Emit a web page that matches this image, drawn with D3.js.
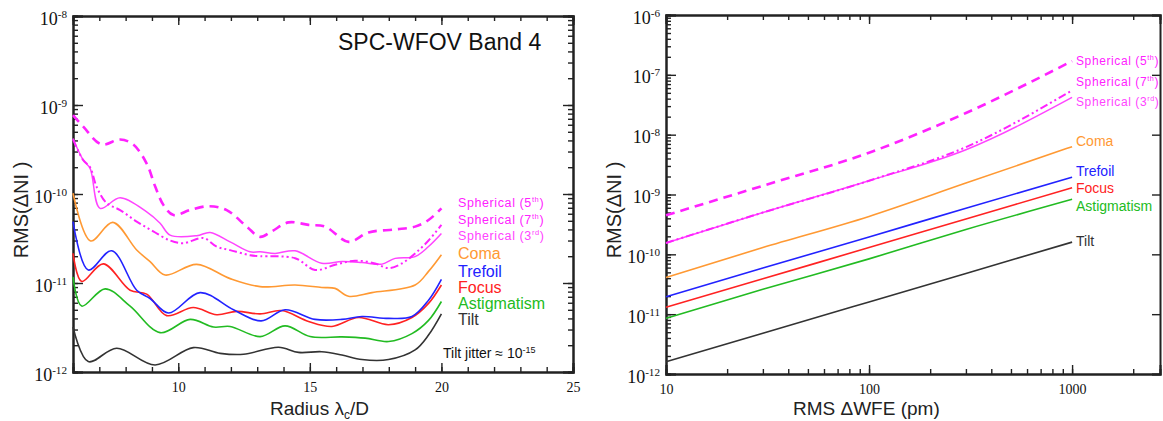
<!DOCTYPE html>
<html>
<head>
<meta charset="utf-8">
<script src="https://cdn.jsdelivr.net/npm/d3@7"></script>
<style>
  body { margin: 0; background: #fff; }
  svg { display: block; font-family: "Liberation Sans", Arial, sans-serif; }
  .axis path, .axis line { stroke: #222; }
  .axis path { stroke-width: 2; }
  .axis line { stroke-width: 1.4; }
</style>
</head>
<body>
<svg id="drawing_region"></svg>
<script>
// ---- left panel: RMS(dNI) vs radius, [radius, value] pairs
var tiltL = [[6.0,3.2e-12],[6.58,1.31e-12],[7.66,1.85e-12],[9.12,1.2e-12],[10.57,1.88e-12],[11.59,1.62e-12],[12.48,1.58e-12],[13.81,1.9e-12],[14.57,1.66e-12],[15.45,1.69e-12],[16.22,1.55e-12],[16.98,1.38e-12],[17.99,1.38e-12],[19.0,1.77e-12],[19.51,2.6e-12],[20.0,4.5e-12]];
var astigL = [[6.0,1.17e-11],[6.33,5.5e-12],[7.22,8.6e-12],[8.17,5.5e-12],[9.31,2.77e-12],[10.45,3.9e-12],[11.34,3.2e-12],[11.97,3.25e-12],[13.11,2.5e-12],[14.06,3.3e-12],[15.01,2.5e-12],[16.22,2.48e-12],[17.1,2.4e-12],[17.99,2.2e-12],[18.88,2.7e-12],[19.51,3.8e-12],[20.0,6.2e-12]];
var focusL = [[6.0,2.16e-11],[6.33,1.04e-11],[7.15,1.64e-11],[8.17,8.3e-12],[8.8,7.5e-12],[9.56,4.3e-12],[10.57,5.3e-12],[11.46,4.4e-12],[12.22,4.8e-12],[13.11,4.5e-12],[13.93,4.9e-12],[14.95,3.7e-12],[15.84,3.25e-12],[16.85,4.1e-12],[17.99,3.4e-12],[18.88,4.1e-12],[19.51,5.9e-12],[20.0,9.5e-12]];
var trefoilL = [[6.0,4.9e-11],[6.58,1.4e-11],[7.47,2.3e-11],[8.42,8.3e-12],[8.93,6.7e-12],[9.63,4.6e-12],[10.83,7.8e-12],[12.1,5.0e-12],[13.15,3.75e-12],[14.06,5.0e-12],[15.2,3.9e-12],[16.22,3.9e-12],[16.98,4.2e-12],[17.99,4.0e-12],[18.88,4.2e-12],[19.51,6.4e-12],[20.0,1.1e-11]];
var comaL = [[6.0,1.02e-10],[6.67,2.97e-11],[7.51,4.8e-11],[8.42,2.35e-11],[8.93,1.74e-11],[9.5,1.23e-11],[10.7,1.62e-11],[11.97,1.12e-11],[13.11,9.1e-12],[14.44,9.5e-12],[15.45,8.9e-12],[15.96,8.7e-12],[16.47,7.1e-12],[17.36,7.8e-12],[19.0,9.5e-12],[19.51,1.35e-11],[20.0,2.08e-11]];
var sph3L = [[6.0,4.2e-10],[6.39,2.4e-10],[6.65,1.94e-10],[7.03,6.9e-11],[7.79,9.1e-11],[8.8,6.3e-11],[9.31,4.7e-11],[9.69,3.45e-11],[10.7,3.4e-11],[11.21,3.7e-11],[11.97,2.9e-11],[12.73,2.24e-11],[13.11,2.24e-11],[13.68,2.15e-11],[14.44,2.3e-11],[15.45,1.67e-11],[16.22,1.74e-11],[16.98,1.7e-11],[17.74,1.63e-11],[18.24,1.89e-11],[19.0,1.98e-11],[19.51,2.57e-11],[20.0,3.6e-11]];
var sph7L = [[6.0,4.1e-10],[6.39,2.4e-10],[6.65,2.0e-10],[6.9,1.2e-10],[7.28,7.9e-11],[7.79,6.6e-11],[8.42,4.9e-11],[9.05,3.8e-11],[9.69,3.0e-11],[10.19,2.8e-11],[10.96,3.2e-11],[11.46,2.56e-11],[11.97,2.34e-11],[12.73,2.05e-11],[13.11,2.0e-11],[14.44,1.9e-11],[15.2,1.4e-11],[15.96,1.6e-11],[16.72,1.78e-11],[17.48,1.66e-11],[17.99,1.47e-11],[18.5,1.66e-11],[19.0,2.15e-11],[19.51,3.0e-11],[20.0,4.5e-11]];
var sph5L = [[6.0,7.7e-10],[6.39,5.7e-10],[7.09,3.6e-10],[7.79,4.1e-10],[8.29,3.6e-10],[8.8,2.2e-10],[9.12,1.22e-10],[9.44,7.5e-11],[9.82,5.8e-11],[10.45,6.6e-11],[11.15,7.3e-11],[11.84,6.6e-11],[12.6,4.3e-11],[13.11,3.3e-11],[13.55,3.8e-11],[14.19,4.8e-11],[14.95,4.5e-11],[15.58,4.3e-11],[16.47,2.9e-11],[17.23,3.7e-11],[18.24,4.0e-11],[19.0,4.3e-11],[19.51,5.1e-11],[20.0,6.9e-11]];

// ---- right panel: RMS(dNI) vs RMS dWFE (pm)
var wfe = [10, 30, 100, 300, 1000];
var tiltR = [1.6e-12, 4.8e-12, 1.6e-11, 4.8e-11, 1.6e-10];
var astigR = [8.5e-12, 2.6e-11, 8.4e-11, 2.6e-10, 8.3e-10];
var focusR = [1.3e-11, 3.9e-11, 1.3e-10, 3.9e-10, 1.3e-9];
var trefoilR = [1.95e-11, 5.9e-11, 1.95e-10, 5.9e-10, 1.95e-9];
var comaR = [4.1e-11, 1.3e-10, 4.3e-10, 1.55e-9, 6.3e-9];
var sph3R = [1.55e-10, 5.0e-10, 1.7e-9, 5.6e-9, 4.2e-8];
var sph7R = [1.55e-10, 5.0e-10, 1.7e-9, 6.2e-9, 5.5e-8];
var sph5R = [4.5e-10, 1.4e-9, 5.0e-9, 2.3e-8, 1.7e-7];

// tick labels
var leftXTicks = [10, 15, 20, 25];
var leftYExp = [-8, -9, -10, -11, -12];
var rightXTicks = [10, 100, 1000];
var rightYExp = [-6, -7, -8, -9, -10, -11, -12];

var series = [
  {name: 'Spherical (5', sup: 'th', end: ')', color: '#ff22ff', dash: '9,6', w: 2.6, left: sph5L, right: sph5R},
  {name: 'Spherical (7', sup: 'th', end: ')', color: '#ff22ff', dash: '8,3,2,3,2,3', w: 2, left: sph7L, right: sph7R},
  {name: 'Spherical (3', sup: 'rd', end: ')', color: '#ff44ff', dash: null, w: 1.5, left: sph3L, right: sph3R},
  {name: 'Coma', color: '#ff9933', dash: null, w: 1.6, left: comaL, right: comaR},
  {name: 'Trefoil', color: '#2222ff', dash: null, w: 1.6, left: trefoilL, right: trefoilR},
  {name: 'Focus', color: '#ff2222', dash: null, w: 1.6, left: focusL, right: focusR},
  {name: 'Astigmatism', color: '#22bb22', dash: null, w: 1.6, left: astigL, right: astigR},
  {name: 'Tilt', color: '#333333', dash: null, w: 1.6, left: tiltL, right: tiltR}
];

var svg = d3.select('#drawing_region').attr('width', 1163).attr('height', 421);

function powLabel(sel, exps, fontSize) {
  sel.selectAll('.tick text').each(function(d) {
    var t = d3.select(this).text('');
    t.append('tspan').text('10');
    t.append('tspan').attr('dy', -7).attr('font-size', fontSize * 0.62).text(Math.round(Math.log10(d)));
  });
}

function drawLabel(g, s, x, y, bigSize, smallSize) {
  var size = s.sup ? smallSize : bigSize;
  var t = g.append('text').attr('x', x).attr('y', y).attr('fill', s.color)
    .attr('font-size', size).attr('dominant-baseline', 'middle').attr('letter-spacing', s.sup ? 0.6 : 0);
  t.append('tspan').text(s.name);
  if (s.sup) {
    t.append('tspan').attr('dy', -4).attr('font-size', size * 0.6).text(s.sup);
    t.append('tspan').attr('dy', 4).text(s.end);
  }
}

// ================= left panel =================
(function() {
  var x0 = 73, x1 = 573, y0 = 16, y1 = 372;
  var xscale = d3.scaleLinear().domain([6, 25]).range([x0, x1]);
  var yscale = d3.scaleLog().domain([1e-12, 1e-8]).range([y1, y0]);
  var g = svg.append('g');

  var minorX = d3.range(7, 26);
  var minorY = yscale.ticks();

  // minor ticks on all four sides
  g.append('g').attr('class', 'axis').attr('transform', `translate(0,${y1})`)
    .call(d3.axisBottom(xscale).tickValues(minorX).tickSize(-5).tickFormat(''));
  g.append('g').attr('class', 'axis').attr('transform', `translate(0,${y0})`)
    .call(d3.axisTop(xscale).tickValues(minorX).tickSize(-5).tickFormat(''));
  g.append('g').attr('class', 'axis').attr('transform', `translate(${x0},0)`)
    .call(d3.axisLeft(yscale).tickValues(minorY).tickSize(-5).tickFormat(''));
  g.append('g').attr('class', 'axis').attr('transform', `translate(${x1},0)`)
    .call(d3.axisRight(yscale).tickValues(minorY).tickSize(-5).tickFormat(''));

  // major ticks
  var xb = g.append('g').attr('class', 'axis').attr('transform', `translate(0,${y1})`)
    .call(d3.axisBottom(xscale).tickValues(leftXTicks).tickSize(-9).tickPadding(10).tickFormat(d3.format('d')));
  xb.selectAll('.tick text').attr('font-family', 'Liberation Serif').attr('font-size', 14).attr('fill', '#111');
  g.append('g').attr('class', 'axis').attr('transform', `translate(0,${y0})`)
    .call(d3.axisTop(xscale).tickValues(leftXTicks).tickSize(-9).tickFormat(''));
  var yl = g.append('g').attr('class', 'axis').attr('transform', `translate(${x0},0)`)
    .call(d3.axisLeft(yscale).tickValues(leftYExp.map(e => Math.pow(10, e))).tickSize(-10).tickPadding(6));
  yl.selectAll('.tick text').attr('font-family', 'Liberation Serif').attr('font-size', 18).attr('fill', '#111').attr('dy', '0.45em');
  powLabel(yl, leftYExp, 18);
  g.append('g').attr('class', 'axis').attr('transform', `translate(${x1},0)`)
    .call(d3.axisRight(yscale).tickValues(leftYExp.map(e => Math.pow(10, e))).tickSize(-10).tickFormat(''));

  var line = d3.line().x(d => xscale(d[0])).y(d => yscale(d[1])).curve(d3.curveCatmullRom.alpha(0.5));
  series.slice().reverse().forEach(s => {
    g.append('path').datum(s.left).attr('d', line).attr('fill', 'none')
      .attr('stroke', s.color).attr('stroke-width', s.w).attr('stroke-dasharray', s.dash);
  });

  var labelY = [204, 221, 237, 255, 273, 289, 305, 321];
  series.forEach((s, i) => drawLabel(g, s, 458, labelY[i], 16, 12.5));

  g.append('text').attr('x', 338).attr('y', 50).attr('font-size', 23).attr('fill', '#111').text('SPC-WFOV Band 4');

  var tj = g.append('text').attr('x', 443).attr('y', 358).attr('font-size', 14).attr('fill', '#111');
  tj.append('tspan').text('Tilt jitter \u2248 10');
  tj.append('tspan').attr('dy', -5).attr('font-size', 9).text('-15');

  var xl = g.append('text').attr('x', 270).attr('y', 415).attr('font-size', 19).attr('fill', '#222');
  xl.append('tspan').text('Radius \u03bb');
  xl.append('tspan').attr('dy', 4).attr('font-size', 12).text('c');
  xl.append('tspan').attr('dy', -4).text('/D');

  g.append('text').attr('transform', 'translate(28,210) rotate(-90)').attr('text-anchor', 'middle')
    .attr('font-size', 20).attr('fill', '#222').text('RMS(\u0394NI )');
})();

// ================= right panel =================
(function() {
  var x0 = 666, x1 = 1160, y0 = 15, y1 = 374;
  var xscale = d3.scaleLog().domain([10, 2710]).range([x0, x1]);
  var yscale = d3.scaleLog().domain([1e-12, 1e-6]).range([y1, y0]);
  var g = svg.append('g');

  var minorX = xscale.ticks().filter(d => d > 10);
  var minorY = yscale.ticks();

  g.append('g').attr('class', 'axis').attr('transform', `translate(0,${y1})`)
    .call(d3.axisBottom(xscale).tickValues(minorX).tickSize(-5).tickFormat(''));
  g.append('g').attr('class', 'axis').attr('transform', `translate(0,${y0})`)
    .call(d3.axisTop(xscale).tickValues(minorX).tickSize(-5).tickFormat(''));
  g.append('g').attr('class', 'axis').attr('transform', `translate(${x0},0)`)
    .call(d3.axisLeft(yscale).tickValues(minorY).tickSize(-5).tickFormat(''));

  var xb = g.append('g').attr('class', 'axis').attr('transform', `translate(0,${y1})`)
    .call(d3.axisBottom(xscale).tickValues(rightXTicks).tickSize(-9).tickPadding(10).tickFormat(d3.format('d')));
  xb.selectAll('.tick text').attr('font-family', 'Liberation Serif').attr('font-size', 14).attr('fill', '#111');
  g.append('g').attr('class', 'axis').attr('transform', `translate(0,${y0})`)
    .call(d3.axisTop(xscale).tickValues(rightXTicks).tickSize(-9).tickFormat(''));
  var yl = g.append('g').attr('class', 'axis').attr('transform', `translate(${x0},0)`)
    .call(d3.axisLeft(yscale).tickValues(rightYExp.map(e => Math.pow(10, e))).tickSize(-10).tickPadding(6));
  yl.selectAll('.tick text').attr('font-family', 'Liberation Serif').attr('font-size', 18).attr('fill', '#111').attr('dy', '0.45em');
  powLabel(yl, rightYExp, 18);
  g.append('g').attr('class', 'axis').attr('transform', `translate(${x1},0)`)
    .call(d3.axisRight(yscale).tickValues(rightYExp.map(e => Math.pow(10, e))).tickSize(-8).tickFormat(''));

  var line = d3.line().x((d, i) => xscale(wfe[i])).y(d => yscale(d)).curve(d3.curveMonotoneX);
  series.slice().reverse().forEach(s => {
    g.append('path').datum(s.right).attr('d', line).attr('fill', 'none')
      .attr('stroke', s.color).attr('stroke-width', s.w).attr('stroke-dasharray', s.dash);
  });

  var labelY = [62, 83, 103, 142, 172, 189, 207, 242];
  series.forEach((s, i) => drawLabel(g, s, 1076, labelY[i], 14, 12));

  g.append('text').attr('x', 793).attr('y', 415).attr('font-size', 19).attr('fill', '#222')
    .text('RMS \u0394WFE  (pm)');

  g.append('text').attr('transform', 'translate(621,210) rotate(-90)').attr('text-anchor', 'middle')
    .attr('font-size', 20).attr('fill', '#222').text('RMS(\u0394NI )');
})();
</script>
</body>
</html>
